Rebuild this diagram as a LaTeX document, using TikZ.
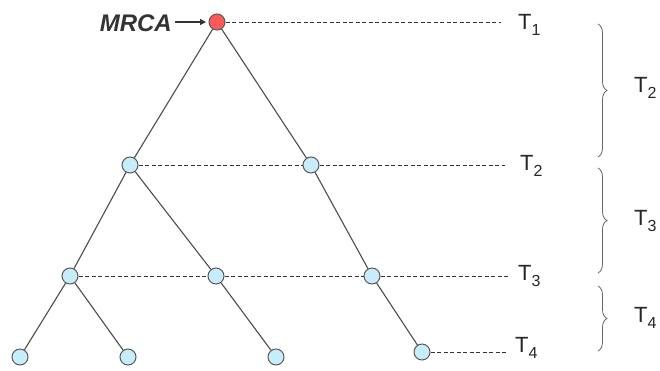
\documentclass[tikz,border=0pt]{standalone}
\usepackage{fontspec}
\setmainfont{Liberation Sans}
\usetikzlibrary{decorations.pathreplacing,arrows.meta}
\newcommand{\Tsub}[1]{T\raisebox{-6pt}{\fontsize{16}{18}\selectfont #1}}
\begin{document}
\begin{tikzpicture}[x=1pt,y=-1pt,
  nd/.style={circle,draw=black!65,line width=1pt,fill=cyan!22!white,minimum size=16pt,inner sep=0pt},
  root/.style={nd,fill=red!65!white},
  br/.style={draw=black!70,line width=1.1pt},
  dl/.style={draw=black!80,line width=1pt,dash pattern=on 4pt off 2.5pt},
  tl/.style={font=\fontsize{22}{24}\selectfont,text=black!85,inner sep=0pt},
  brace/.style={draw=black!60,line width=0.8pt,decorate,decoration={brace,amplitude=9pt}}]
\useasboundingbox (0,0) rectangle (660,370);
\node[root] (r) at (217,22) {};
\node[nd] (a) at (130,165) {};
\node[nd] (b) at (311,165) {};
\node[nd] (c) at (70,276) {};
\node[nd] (d) at (216,276) {};
\node[nd] (e) at (372,276) {};
\node[nd] (l1) at (20,357) {};
\node[nd] (l2) at (128,357) {};
\node[nd] (l3) at (276,357) {};
\node[nd] (l4) at (422,352) {};
\foreach \p/\q in {r/a,r/b,a/c,a/d,b/e,c/l1,c/l2,d/l3,e/l4}
  \draw[br] (\p) -- (\q);
\node[tl,anchor=base west] (t1) at (518,29) {\Tsub{1}};
\node[tl,anchor=base west] (t2) at (520,170) {\Tsub{2}};
\node[tl,anchor=base west] (t3) at (518,280) {\Tsub{3}};
\node[tl,anchor=base west] (t4) at (515,352) {\Tsub{4}};
\coordinate (e1) at (501,22);
\coordinate (e2) at (505,165);
\coordinate (e3) at (510,276);
\coordinate (e4) at (506,352);
\draw[dl] (r) -- (e1);
\draw[dl] (a) -- (b);
\draw[dl] (b) -- (e2);
\draw[dl] (c) -- (d);
\draw[dl] (d) -- (e);
\draw[dl] (e) -- (e3);
\draw[dl] (l4) -- (e4);
\node[font=\fontsize{24}{26}\selectfont\bfseries\itshape,text=black!80,anchor=east,inner sep=0pt] (m) at (172,23) {MRCA};
\draw[black!80,line width=1.2pt,-{Triangle[length=6pt,width=6pt]}] (m.east) ++(3,-1) coordinate (ms) -- (206,22);
\draw[brace] (598,24) -- (598,157);
\draw[brace] (598,168) -- (598,273);
\draw[brace] (598,286) -- (598,351);
\node[tl,anchor=base west] at (634,92) {\Tsub{2}};
\node[tl,anchor=base west] at (634,225) {\Tsub{3}};
\node[tl,anchor=base west] at (634,322) {\Tsub{4}};
\end{tikzpicture}
\end{document}
